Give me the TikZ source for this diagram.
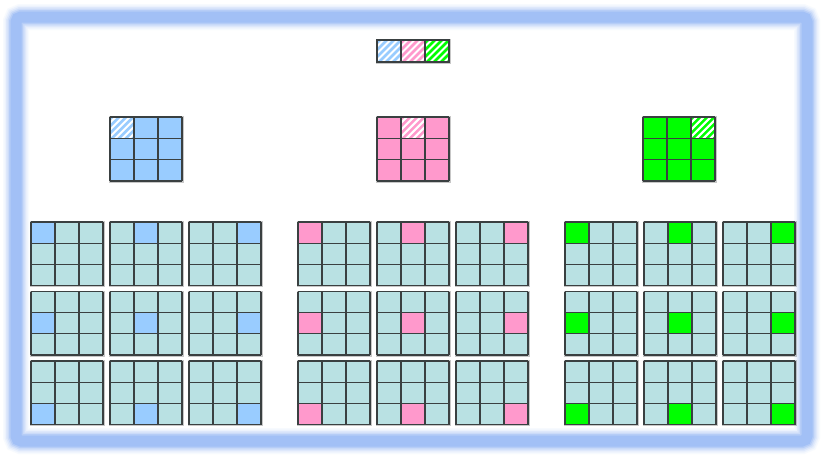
\documentclass[tikz,border=0pt]{standalone}
\definecolor{cblue}{HTML}{99CCFF}
\definecolor{cpink}{HTML}{FF99CC}
\definecolor{cgreen}{HTML}{00FF00}
\definecolor{cteal}{HTML}{B9E1E3}
\definecolor{cline}{HTML}{3A4041}
\definecolor{cframe}{HTML}{A2C0F6}
\tikzset{gridline/.style={cline,line width=1.1pt},
  gridshadow/.style={black,opacity=0.22}}
\newcommand\gridlines[2]{% width height of cell
  \foreach \i in {0,1,2,3}{
    \draw[gridline] (#1*\i,0) -- (#1*\i,3*#2);
    \draw[gridline] (0,#2*\i) -- (3*#1,#2*\i);}}
\newcommand\hatchcell[4]{% x y h color
  \begin{scope}[shift={(#1,#2)}]
    \fill[white] (0,0) rectangle (24,#3);
    \begin{scope}
      \clip (0,0) rectangle (24,#3);
      \foreach \k in {-28,-21,...,28}{\draw[#4,line width=2.6pt] (\k,#3+2) -- ++(28,-28);}
    \end{scope}
  \end{scope}}
\begin{document}
\begin{tikzpicture}[x=1pt,y=-1pt]
\useasboundingbox (0,0) rectangle (824,458);
\fill[white] (0,0) rectangle (824,458);
% frame (soft glow)
\foreach \w/\o in {26/0.08,23/0.12,20/0.18,17/0.3,14/0.5,11/1}{
  \draw[cframe,line width=\w pt,opacity=\o,rounded corners=5pt] (16,17) rectangle (807,441);}
% top strip
\fill[gridshadow] (376,39) rectangle (450.5,63.5);
\hatchcell{377}{40}{22}{cblue}
\hatchcell{401}{40}{22}{cpink}
\hatchcell{425}{40}{22}{cgreen}
\begin{scope}[shift={(377,40)}]
  \draw[gridline] (0,0) rectangle (72,22);
  \draw[gridline] (24,0) -- (24,22) (48,0) -- (48,22);
\end{scope}
% middle grids
\foreach \g/\col/\gx in {0/cblue/110,1/cpink/377,2/cgreen/643}{
  \begin{scope}[shift={(\gx,117)}]
    \fill[gridshadow] (-1,-1) rectangle (73.5,65.5);
    \fill[\col] (0,0) rectangle (72,64);
  \end{scope}
  \hatchcell{\gx+24*\g}{117}{21.333}{\col}
  \begin{scope}[shift={(\gx,117)}]
    \gridlines{24}{21.333}
  \end{scope}
}
% bottom grids
\foreach \g/\col in {0/cblue,1/cpink,2/cgreen}{
  \foreach \r in {0,1,2}{
    \foreach \c in {0,1,2}{
      \pgfmathsetmacro\gx{31+267*\g+79*\c}
      \pgfmathsetmacro\gy{222+69.5*\r}
      \begin{scope}[shift={(\gx,\gy)}]
        \fill[gridshadow] (-1,-1) rectangle (73.5,65);
        \fill[cteal] (0,0) rectangle (72,63.5);
        \fill[\col] (24*\c,21.167*\r) rectangle ++(24,21.167);
        \gridlines{24}{21.167}
      \end{scope}
    }}}
\end{tikzpicture}
\end{document}
